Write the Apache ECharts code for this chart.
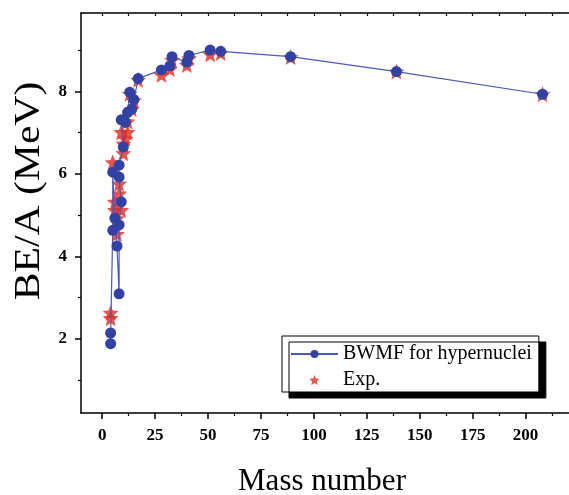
<!DOCTYPE html>
<html>
<head>
<meta charset="utf-8">
<script src="https://cdn.jsdelivr.net/npm/echarts@6/dist/echarts.min.js"></script>
<style>
  html, body { margin: 0; padding: 0; background: #fff; }
  #chart { width: 569px; height: 495px; }
</style>
</head>
<body>
<div id="chart"></div>
<script>
// BWMF hypernuclei (mass number, BE/A in MeV), in plotted order
const bwmfA  = [4, 4, 5, 5, 6, 7, 8, 8, 9, 8, 8, 10, 9, 11, 12, 13, 14, 15, 17, 28, 32, 33, 40, 41, 51, 56, 89, 139, 208]
const bwmfBE = [1.88, 2.14, 4.63, 6.04, 4.92, 4.25, 3.09, 4.76, 5.32, 5.92, 6.21, 6.65, 7.31, 7.25, 7.49, 7.98, 7.57, 7.80, 8.31, 8.52, 8.62, 8.84, 8.71, 8.87, 9.00, 8.97, 8.84, 8.48, 7.93]

// experimental values
const expA  = [4, 4, 5, 6, 6, 7, 7, 8, 8, 9, 9, 10, 10, 11, 12, 12, 13, 14, 15, 17, 28, 32, 33, 40, 41, 51, 56, 89, 139, 208]
const expBE = [2.63, 2.50, 6.28, 5.32, 5.12, 4.92, 4.54, 5.76, 5.52, 5.12, 7.01, 6.73, 6.50, 6.85, 7.01, 7.27, 7.94, 7.57, 7.78, 8.28, 8.40, 8.54, 8.76, 8.64, 8.80, 8.90, 8.93, 8.83, 8.48, 7.93]

const xMajorTicks = [0, 25, 50, 75, 100, 125, 150, 175, 200]
const xMinorTicks = [12.5, 37.5, 62.5, 87.5, 112.5, 137.5, 162.5, 187.5, 212.5]
const yMajorTicks = [2, 4, 6, 8]
const yMinorTicks = [1, 3, 5, 7, 9]

const serif = 'Liberation Serif'
const starPath = 'path://M50,0 L62.93,32.2 L97.55,34.55 L70.92,56.8 L79.39,90.45 L50,72 L20.61,90.45 L29.08,56.8 L2.45,34.55 L37.07,32.2 Z'
const axisColor = '#000'

const chart = echarts.init(document.getElementById('chart'))

// the frame runs past the right edge of the picture
function xAxisBase(extra) {
  return Object.assign({
    type: 'value',
    min: -10,
    max: 220.5,
    splitLine: { show: false },
    axisLabel: { show: false },
    axisLine: { show: false, onZero: false, lineStyle: { color: axisColor, width: 1.5 } }
  }, extra)
}

function yAxisBase(extra) {
  return Object.assign({
    type: 'value',
    min: 0.2,
    max: 9.9,
    splitLine: { show: false },
    axisLabel: { show: false },
    axisLine: { show: false, onZero: false, lineStyle: { color: axisColor, width: 1.5 } }
  }, extra)
}

chart.setOption({
  animation: false,
  backgroundColor: '#fff',
  grid: { left: 81, right: 0, top: 13, bottom: 82, containLabel: false },
  xAxis: [
    xAxisBase({
      position: 'bottom',
      axisLine: { show: true, onZero: false, lineStyle: { color: axisColor, width: 1.5 } },
      axisTick: { show: true, customValues: xMajorTicks, length: 6, lineStyle: { color: axisColor, width: 1.5 } },
      axisLabel: {
        show: true, customValues: xMajorTicks, margin: 14,
        fontFamily: serif, fontWeight: 'bold', fontSize: 17, color: '#000'
      }
    }),
    xAxisBase({
      position: 'bottom',
      axisTick: { show: true, customValues: xMinorTicks, length: 3, lineStyle: { color: axisColor, width: 1.2 } }
    }),
    xAxisBase({
      position: 'top',
      axisLine: { show: true, onZero: false, lineStyle: { color: axisColor, width: 1.5 } },
      axisTick: { show: true, inside: true, customValues: xMajorTicks.concat(xMinorTicks), length: 3, lineStyle: { color: axisColor, width: 1.2 } }
    })
  ],
  yAxis: [
    yAxisBase({
      position: 'left',
      axisLine: { show: true, onZero: false, lineStyle: { color: axisColor, width: 1.5 } },
      axisTick: { show: true, customValues: yMajorTicks, length: 6, lineStyle: { color: axisColor, width: 1.5 } },
      axisLabel: {
        show: true, customValues: yMajorTicks, margin: 14,
        fontFamily: serif, fontWeight: 'bold', fontSize: 17, color: '#000'
      }
    }),
    yAxisBase({
      position: 'left',
      axisTick: { show: true, customValues: yMinorTicks, length: 3, lineStyle: { color: axisColor, width: 1.2 } }
    })
  ],
  legend: {
    orient: 'vertical',
    left: 282,
    top: 336,
    padding: [8, 7, 2, 8],
    itemWidth: 47,
    itemHeight: 10,
    itemGap: 6,
    backgroundColor: '#fff',
    borderColor: '#000',
    borderWidth: 1,
    borderRadius: 0,
    shadowColor: '#000',
    shadowBlur: 0,
    shadowOffsetX: 7,
    shadowOffsetY: 6,
    textStyle: { fontFamily: serif, fontSize: 20, color: '#000', lineHeight: 20 },
    data: [
      { name: 'BWMF for hypernuclei' },
      { name: 'Exp.', icon: starPath }
    ]
  },
  graphic: [
    {
      type: 'text',
      x: 30,
      y: 191,
      rotation: Math.PI / 2,
      scaleX: 1.19,
      style: {
        text: 'BE/A (MeV)', fontFamily: serif, fontSize: 35, fill: '#000',
        align: 'center', verticalAlign: 'middle'
      }
    },
    {
      type: 'text',
      x: 322,
      y: 482,
      style: {
        text: 'Mass number', fontFamily: serif, fontSize: 31, fill: '#000',
        align: 'center', verticalAlign: 'middle'
      }
    }
  ],
  series: [
    {
      name: 'BWMF for hypernuclei',
      type: 'line',
      xAxisIndex: 0,
      yAxisIndex: 0,
      data: bwmfA.map((a, i) => [a, bwmfBE[i]]),
      symbol: 'circle',
      symbolSize: 11,
      showAllSymbol: true,
      itemStyle: { color: '#3142a3' },
      lineStyle: { color: '#4a5ab8', width: 1.2 }
    },
    {
      name: 'Exp.',
      type: 'scatter',
      xAxisIndex: 0,
      yAxisIndex: 0,
      data: expA.map((a, i) => [a, expBE[i]]),
      symbol: starPath,
      symbolSize: 16,
      itemStyle: { color: '#e3291f' }
    }
  ]
})
</script>
</body>
</html>
